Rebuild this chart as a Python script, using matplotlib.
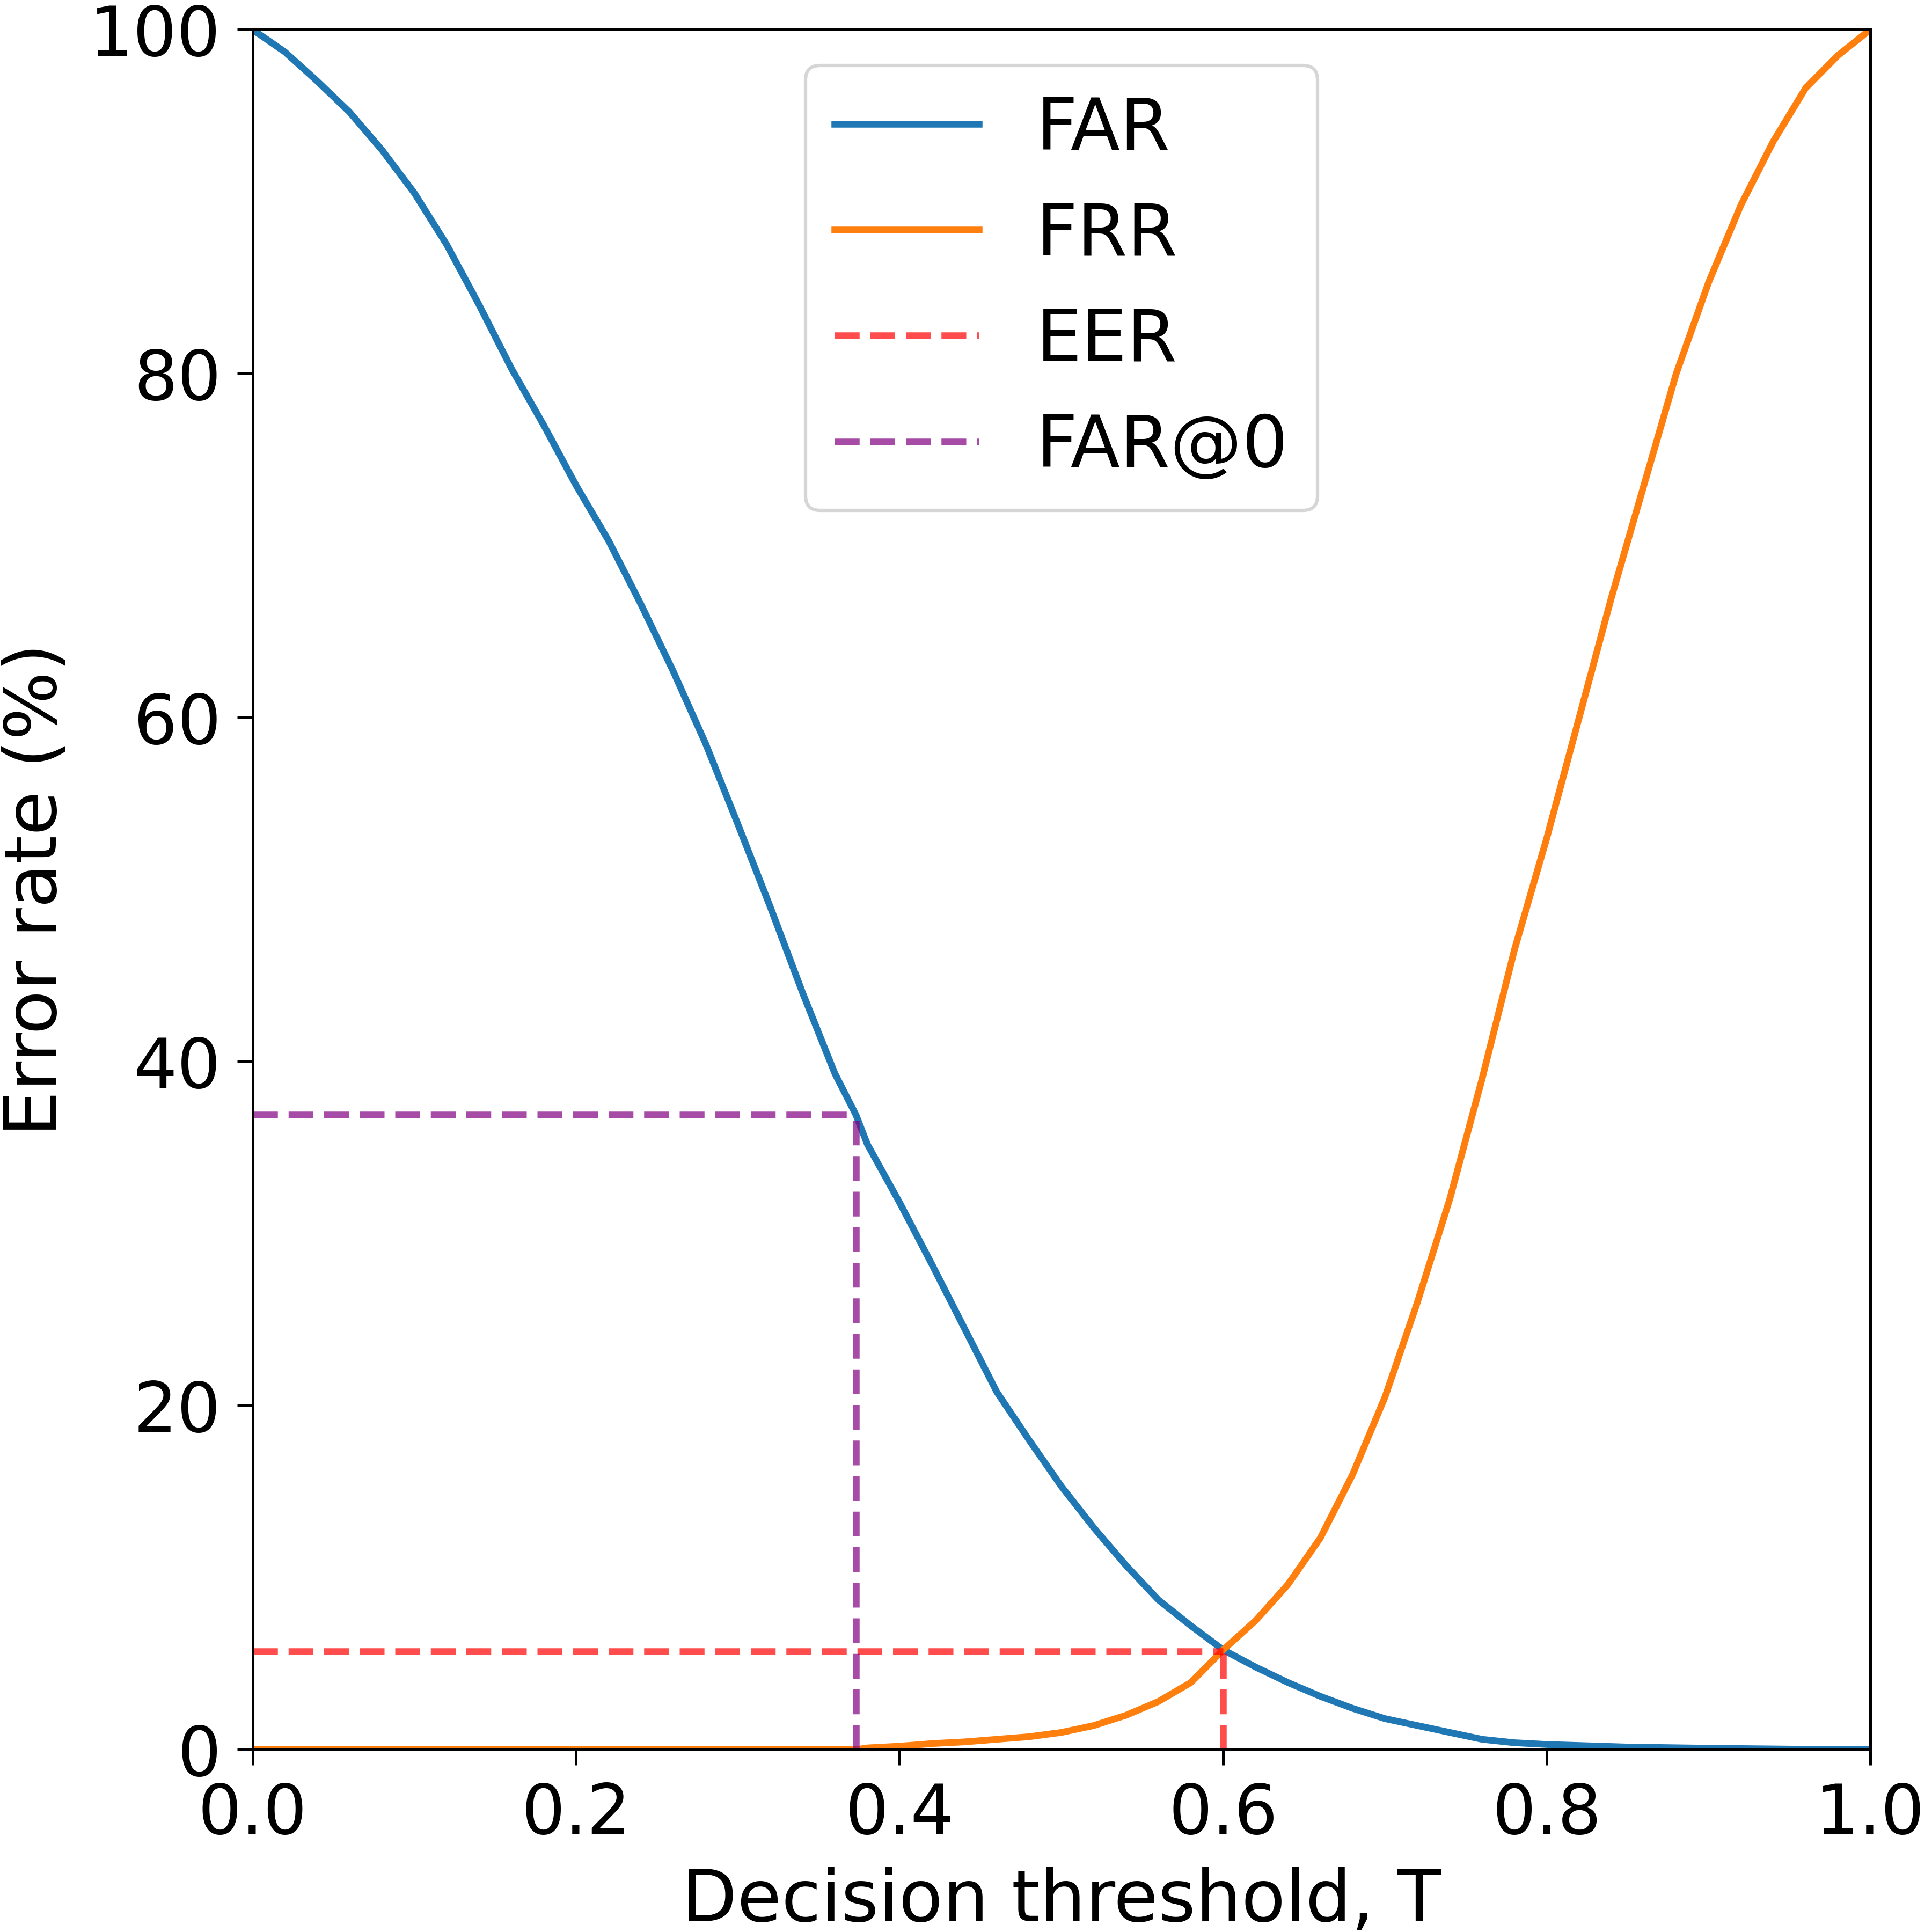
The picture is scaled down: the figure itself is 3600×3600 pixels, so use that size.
import matplotlib
matplotlib.use("Agg")
import matplotlib.pyplot as plt

# Decision threshold grid and error rates (%)
far_T = [0.00, 0.02, 0.04, 0.06, 0.08, 0.10, 0.12, 0.14, 0.16, 0.18, 0.20, 0.22,
         0.24, 0.26, 0.28, 0.30, 0.32, 0.34, 0.36, 0.373, 0.38, 0.40, 0.42, 0.44,
         0.46, 0.48, 0.50, 0.52, 0.54, 0.56, 0.58, 0.60, 0.62, 0.64, 0.66, 0.68,
         0.70, 0.72, 0.74, 0.76, 0.78, 0.80, 0.85, 0.90, 0.95, 1.00]
far = [100.0, 98.7, 97.0, 95.2, 93.0, 90.5, 87.5, 84.0, 80.3, 77.0, 73.5, 70.3,
       66.6, 62.7, 58.5, 53.8, 49.0, 44.0, 39.3, 36.9, 35.2, 31.8, 28.2, 24.5,
       20.8, 18.0, 15.3, 12.9, 10.7, 8.7, 7.2, 5.8, 4.8, 3.9, 3.1, 2.4,
       1.8, 1.4, 1.0, 0.6, 0.4, 0.3, 0.15, 0.08, 0.03, 0.0]

frr_T = [0.00, 0.373, 0.38, 0.40, 0.42, 0.44, 0.46, 0.48, 0.50, 0.52, 0.54, 0.56,
         0.58, 0.60, 0.62, 0.64, 0.66, 0.68, 0.70, 0.72, 0.74, 0.76, 0.78, 0.80,
         0.82, 0.84, 0.86, 0.88, 0.90, 0.92, 0.94, 0.96, 0.98, 1.00]
frr = [0.0, 0.0, 0.1, 0.2, 0.35, 0.45, 0.6, 0.75, 1.0, 1.4, 2.0, 2.8,
       3.9, 5.8, 7.5, 9.6, 12.3, 16.0, 20.5, 26.0, 32.0, 39.0, 46.5, 53.0,
       60.0, 67.0, 73.5, 80.0, 85.3, 89.8, 93.5, 96.6, 98.5, 100.0]

eer_T, eer_val = 0.60, 5.7
far0_T, far0_val = 0.373, 36.9

plt.rcParams['font.family'] = ['DejaVu Sans']
fig = plt.figure(figsize=(8, 8), dpi=450)
ax = fig.add_axes([0.1307, 0.0944, 0.8374, 0.8903])

LW = 2.0
ax.plot(far_T, far, color='tab:blue', lw=LW, label='FAR')
ax.plot(frr_T, frr, color='tab:orange', lw=LW, label='FRR')
ax.plot([0, eer_T], [eer_val, eer_val], ls='--', color='red', alpha=0.7, lw=LW, label='EER')
ax.plot([eer_T, eer_T], [0, eer_val], ls='--', color='red', alpha=0.7, lw=LW)
ax.plot([0, far0_T], [far0_val, far0_val], ls='--', color='purple', alpha=0.7, lw=LW, label='FAR@0')
ax.plot([far0_T, far0_T], [0, far0_val], ls='--', color='purple', alpha=0.7, lw=LW)

ax.set_xlim(0, 1)
ax.set_ylim(0, 100)
ax.set_xticks([0.0, 0.2, 0.4, 0.6, 0.8, 1.0])
ax.set_yticks([0, 20, 40, 60, 80, 100])
ax.tick_params(labelsize=20.5, length=4.6, pad=4.8)
ax.set_xlabel('Decision threshold, T', fontsize=21.5, labelpad=5.5)
ax.set_ylabel('Error rate (%)', fontsize=21.5, labelpad=5.5)
ax.legend(loc='upper center', fontsize=21.5)

fig.savefig('out.png', dpi=450)
